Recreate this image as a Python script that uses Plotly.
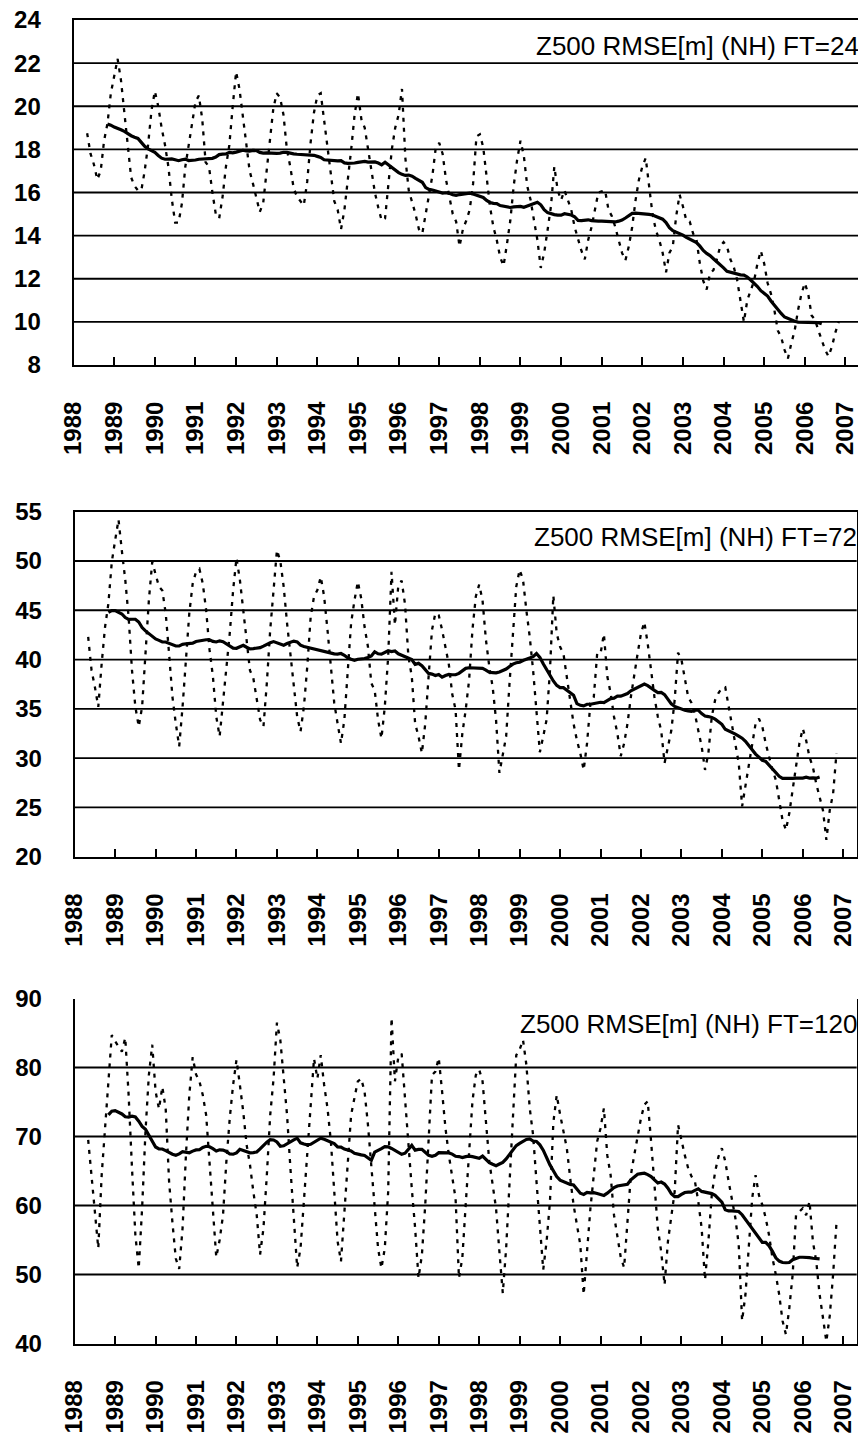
import plotly.graph_objects as go

# Monthly Z500 RMSE [m] (NH), May 1988 .. Nov 2006
START_MONTH = 4          # month index counted from Jan 1988 (4 = May 1988)
WINDOW = 12              # running-mean window (months)
years = [str(y) for y in range(1988, 2008)]

ft24 = [
    18.75, 17.8, 17.3, 16.6, 17.0, 18.4, 19.2, 20.6,
    21.4, 22.2, 21.2, 19.6, 18.2, 16.7, 16.3, 16.1, 16.1, 17.0, 18.2, 19.8,
    20.7, 20.0, 19.0, 18.2, 17.2, 15.7, 14.6, 14.6, 15.5, 17.2, 18.2, 19.3,
    20.2, 20.5, 19.4, 17.4, 17.2, 16.0, 15.0, 14.8, 15.8, 17.2, 18.2, 20.0,
    21.6, 20.8, 19.5, 18.2, 17.0, 16.4, 15.7, 15.1, 15.5, 17.0, 18.6, 19.9,
    20.6, 20.4, 19.6, 18.0, 17.2, 16.2, 15.8, 15.6, 15.4, 16.5, 18.3, 19.7,
    20.5, 20.6, 19.3, 18.0, 16.8, 15.6, 15.2, 14.3, 15.2, 16.5, 18.0, 19.6,
    20.6, 19.4, 19.0, 18.0, 17.0, 16.0, 15.3, 14.7, 14.8, 16.6, 18.0, 19.0,
    19.6, 20.8, 17.6, 16.1, 15.6, 15.0, 14.3, 14.1, 15.0, 16.0, 16.8, 18.1,
    18.3, 17.8, 16.6, 15.8, 15.0, 14.65, 13.5, 14.3, 14.7, 15.2, 16.4, 18.6,
    18.7, 18.1, 16.7, 15.35, 14.4, 13.8, 13.0, 12.6, 13.6, 14.7, 16.3, 17.5,
    18.4, 17.7, 16.3, 15.65, 14.7, 13.8, 12.5, 13.2, 14.25, 15.35, 17.2, 16.1,
    15.65, 16.1, 15.65, 15.2, 14.4, 13.8, 13.3, 12.9, 13.8, 14.4, 15.2, 16.0,
    16.05, 16.1, 15.2, 14.9, 14.4, 13.8, 13.2, 12.85, 13.5, 14.4, 15.65, 16.6,
    17.2, 17.6, 16.3, 15.0, 14.25, 13.8, 13.2, 12.3, 13.2, 13.5, 14.9, 15.9,
    15.35, 14.7, 14.65, 14.1, 13.8, 12.7, 11.9, 11.5, 12.25, 12.4, 12.9, 13.5,
    13.7, 13.5, 12.9, 12.55, 11.95, 11.0, 10.0, 11.0, 11.5, 11.9, 12.7, 13.3,
    12.7, 11.8, 11.3, 10.55, 9.6, 9.3, 8.7, 8.3, 9.0, 9.6, 10.55, 11.3,
    11.8, 11.3, 10.3, 10.1, 9.6, 9.15, 8.7, 8.4, 8.85, 9.5, 10.0,
]

ft72 = [
    42.3, 38.9, 37.2, 35.2, 39.6, 43.3, 45.7, 49.9,
    52.1, 54.2, 51.0, 48.1, 44.3, 38.9, 35.2, 33.2, 35.2, 41.0, 46.0, 49.9,
    48.7, 47.4, 47.0, 44.7, 40.6, 36.2, 33.5, 31.2, 35.2, 39.6, 44.7, 47.7,
    48.9, 49.2, 47.7, 45.0, 41.0, 38.3, 34.2, 32.2, 35.6, 39.6, 42.65, 47.05,
    50.3, 48.1, 45.0, 42.0, 38.9, 38.1, 36.2, 33.9, 33.2, 37.6, 43.0, 47.4,
    51.1, 50.0, 47.4, 43.7, 40.3, 36.9, 34.2, 32.7, 35.2, 39.3, 44.3, 46.4,
    47.05, 48.4, 46.4, 43.0, 38.9, 35.6, 33.5, 31.5, 33.9, 38.6, 43.7, 46.0,
    47.9, 46.2, 43.3, 41.3, 37.6, 36.9, 33.9, 32.0, 35.2, 40.3, 48.9, 43.5,
    47.5, 48.0, 45.6, 40.3, 38.3, 33.5, 32.2, 30.5, 33.5, 38.3, 43.0, 44.7,
    44.5, 43.0, 41.3, 39.5, 36.5, 34.9, 28.8, 32.5, 34.9, 37.9, 43.0, 46.4,
    47.6, 46.0, 42.0, 39.3, 37.2, 33.9, 28.5, 30.5, 32.2, 37.6, 42.65, 47.4,
    49.1, 48.1, 45.0, 42.3, 38.9, 34.5, 30.6, 32.2, 33.9, 38.9, 46.5, 42.65,
    41.3, 40.6, 38.3, 35.6, 33.5, 31.8, 30.5, 28.8, 31.5, 35.6, 36.2, 40.6,
    40.6, 42.6, 38.3, 36.6, 34.2, 32.5, 30.2, 31.5, 33.5, 36.2, 38.6, 40.6,
    42.65, 43.8, 41.6, 38.6, 36.2, 34.2, 32.8, 29.5, 31.2, 32.8, 35.9, 40.7,
    40.0, 37.9, 36.2, 35.6, 34.5, 32.8, 31.2, 28.8, 30.5, 34.2, 35.9, 36.6,
    37.1, 37.2, 35.2, 33.5, 31.5, 29.5, 25.1, 27.1, 29.1, 31.5, 33.5, 34.0,
    33.2, 31.5, 30.1, 28.8, 27.8, 25.7, 23.7, 22.7, 24.4, 26.8, 29.1, 31.5,
    33.0, 31.8, 30.1, 29.1, 27.4, 26.1, 24.7, 21.7, 24.7, 26.4, 30.5,
]

ft120 = [
    69.5, 64.4, 58.6, 53.8, 64.4, 71.2, 77.5, 84.7,
    83.8, 83.0, 82.3, 84.3, 76.0, 65.4, 55.7, 50.9, 59.6, 70.7, 78.9, 83.3,
    76.5, 74.0, 77.2, 74.0, 63.5, 57.5, 52.3, 50.8, 56.7, 67.3, 76.0, 81.5,
    79.0, 78.0, 76.0, 73.1, 66.4, 59.6, 52.5, 55.0, 58.6, 66.4, 72.65, 77.5,
    81.1, 77.5, 73.6, 68.8, 65.9, 62.0, 58.6, 52.9, 56.7, 64.4, 73.1, 78.4,
    86.5, 84.0, 78.9, 73.1, 65.4, 58.6, 51.0, 53.8, 60.6, 68.3, 75.6, 81.3,
    78.4, 81.8, 77.5, 74.1, 69.3, 61.5, 54.8, 51.9, 58.6, 65.4, 73.1, 75.6,
    78.0, 78.4, 76.5, 71.7, 65.4, 59.6, 53.8, 50.9, 53.8, 62.0, 87.2, 78.0,
    81.5, 82.0, 76.0, 69.0, 62.5, 56.7, 49.5, 52.8, 60.1, 69.3, 78.9, 79.4,
    81.4, 76.5, 71.2, 67.3, 64.4, 61.0, 49.5, 52.4, 60.1, 67.3, 75.1, 78.9,
    79.7, 78.0, 72.2, 66.4, 63.0, 59.6, 53.3, 47.3, 53.8, 64.4, 72.65, 81.8,
    82.6, 84.0, 80.4, 74.1, 70.2, 63.5, 56.7, 50.7, 54.8, 60.6, 72.0, 76.0,
    73.2, 70.5, 68.3, 64.0, 60.1, 57.2, 54.3, 47.1, 53.3, 59.6, 64.4, 69.3,
    71.2, 74.1, 67.3, 64.4, 58.6, 55.7, 52.5, 51.0, 58.2, 64.4, 67.3, 70.2,
    72.65, 74.6, 75.1, 69.3, 63.5, 56.7, 53.3, 48.5, 54.8, 58.6, 62.0, 71.7,
    69.3, 67.3, 65.4, 64.2, 63.5, 60.6, 56.7, 49.2, 54.8, 61.5, 64.9, 67.1,
    68.3, 66.4, 63.5, 61.1, 58.2, 54.3, 43.3, 47.1, 54.8, 61.1, 64.4, 61.5,
    60.1, 58.2, 55.7, 52.4, 50.0, 47.1, 43.3, 41.3, 45.1, 50.0, 58.6, 59.1,
    59.6, 58.6, 60.6, 54.8, 51.9, 47.1, 43.7, 40.3, 44.0, 50.0, 57.5,
]

titles = ["Z500 RMSE[m] (NH) FT=24", "Z500 RMSE[m] (NH) FT=72", "Z500 RMSE[m] (NH) FT=120"]
y_ranges = [[8, 24], [20, 55], [40, 90]]
y_dticks = [2, 5, 10]
series = [ft24, ft72, ft120]

H, W = 1434, 866
PAGE = 8  # the HTML page's default body margin shifts the figure by 8 px
# screen-pixel boxes of the three plot areas: (left, right, top, bottom)
boxes = [(73.6, 859.0, 20.0, 365.0), (74.7, 856.7, 511.7, 856.7), (74.7, 856.7, 998.5, 1343.5)]
top_line = [True, True, False]

TICK_FONT = dict(family="Liberation Sans", size=24, color="black", weight="bold")

fig = go.Figure()
shapes = []
annotations = []
layout = {}

for i, data in enumerate(series):
    s = "" if i == 0 else str(i + 1)
    xs = [START_MONTH + j for j in range(len(data))]
    mean = [sum(data[j:j + WINDOW]) / WINDOW for j in range(len(data) - WINDOW + 1)]
    xm = [START_MONTH + WINDOW // 2 + j for j in range(len(mean))]

    fig.add_trace(go.Scatter(x=xs, y=data, mode="lines", xaxis=f"x{s}", yaxis=f"y{s}",
                             line=dict(color="black", width=2.3, dash="4px,6px"),
                             hoverinfo="skip"))
    fig.add_trace(go.Scatter(x=xm, y=mean, mode="lines", xaxis=f"x{s}", yaxis=f"y{s}",
                             line=dict(color="black", width=3.2), hoverinfo="skip"))

    l, r, t, b = [v - PAGE for v in boxes[i]]
    xdom = [l / W, r / W]
    ydom = [1 - b / H, 1 - t / H]
    lo, hi = y_ranges[i]
    dt = y_dticks[i]
    yticks = list(range(lo, hi + 1, dt))

    layout[f"xaxis{s}"] = dict(
        domain=xdom, anchor=f"y{s}", range=[0, 12 * (len(years) - 1) + 4],
        tickmode="array", tickvals=[12 * k for k in range(len(years))], ticktext=years,
        ticks="inside", ticklen=8, tickwidth=2, tickcolor="black",
        showline=True, linewidth=2, linecolor="black", mirror=top_line[i],
        showgrid=False, zeroline=False, tickangle=-90, tickfont=TICK_FONT,
        ticklabelstandoff=25, ticklabeloverflow="allow",
        automargin=False, fixedrange=True,
    )
    layout[f"yaxis{s}"] = dict(
        domain=ydom, anchor=f"x{s}", range=[lo - 1e-6, hi + 1e-6],
        tickmode="array", tickvals=yticks, ticktext=[str(v) for v in yticks],
        ticks="", showline=True, linewidth=2, linecolor="black", mirror=True,
        showgrid=False, zeroline=False, tickfont=TICK_FONT, ticklabelstandoff=26,
        ticklabeloverflow="allow", automargin=False, fixedrange=True,
    )
    for v in yticks[1:-1]:
        shapes.append(dict(type="line", xref=f"x{s} domain", yref=f"y{s}",
                           x0=0, x1=1, y0=v, y1=v, layer="below",
                           line=dict(color="black", width=1.8)))

    annotations.append(dict(
        text=titles[i], xref=f"x{s} domain", yref=f"y{s} domain", x=1, y=1,
        xanchor="right", yanchor="middle", xshift=2, yshift=-25.5, showarrow=False,
        font=dict(family="Liberation Sans", size=26, color="black"),
    ))

fig.update_layout(
    width=W, height=H, margin=dict(l=0, r=0, t=0, b=0, autoexpand=False),
    paper_bgcolor="white", plot_bgcolor="white", showlegend=False,
    shapes=shapes, annotations=annotations, **layout,
)

fig.write_html("out.html")
